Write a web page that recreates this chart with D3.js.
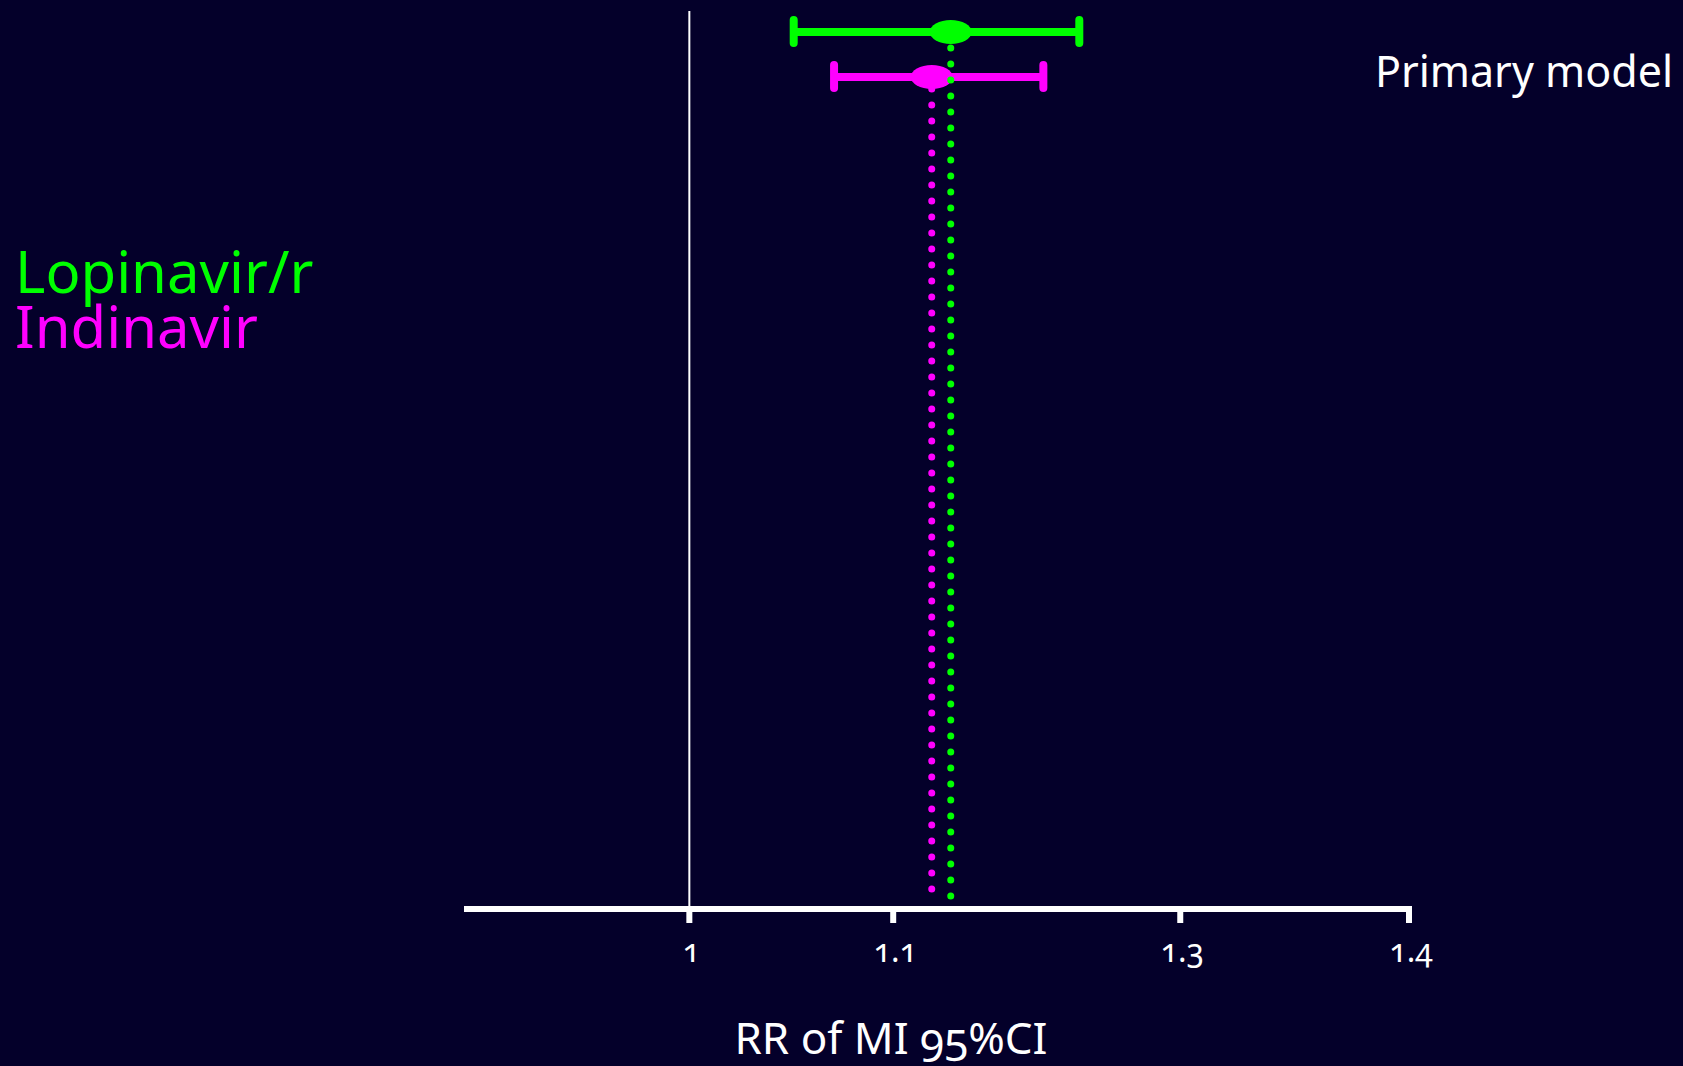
<!DOCTYPE html>
<html>
<head>
<meta charset="utf-8">
<script src="https://cdn.jsdelivr.net/npm/d3@7"></script>
<style>
  html, body { margin: 0; padding: 0; background: #04002a; }
  svg { display: block; }
  text { font-family: "Noto Sans", "Open Sans", sans-serif; font-variant-numeric: oldstyle-nums; }
</style>
</head>
<body>
<svg id="chart" width="1683" height="1066"></svg>
<script>
// Drugs, in drawing order (top row first)
const drugs = ["Lopinavir/r", "Indinavir"];
const drugColors = ["#00ff00", "#ff00ff"];
// Relative rate of MI per year of exposure, with 95% confidence interval
const estimates = [1.13, 1.12];
const lowerCI = [1.05, 1.07];
const upperCI = [1.20, 1.18];
// Axis ticks (the "1.3" tick sits where the slide put it)
const tickValues = [1, 1.1, 1.258, 1.4];
const tickLabels = ["1", "1.1", "1.3", "1.4"];

const W = 1683, H = 1066;
const svg = d3.select("#chart");
svg.append("rect").attr("width", W).attr("height", H).attr("fill", "#04002a");

// Log-scaled rate-ratio axis
const x = d3.scaleLog().domain([0.9, 1.4]).range([464, 1409]);
const y = d3.scalePoint().domain(drugs).range([32, 77]);
const axisY = 909;

// Reference line at RR = 1
svg.append("line")
  .attr("x1", x(1)).attr("x2", x(1))
  .attr("y1", 11).attr("y2", axisY)
  .attr("stroke", "#ffffff").attr("stroke-width", 2);

// Axis baseline and ticks
svg.append("line")
  .attr("x1", x.range()[0]).attr("x2", x.range()[1] + 3)
  .attr("y1", axisY).attr("y2", axisY)
  .attr("stroke", "#ffffff").attr("stroke-width", 6);
svg.append("g").selectAll("line").data(tickValues).join("line")
  .attr("x1", d => x(d)).attr("x2", d => x(d))
  .attr("y1", axisY).attr("y2", axisY + 14)
  .attr("stroke", "#ffffff").attr("stroke-width", 6);
svg.append("g").selectAll("text").data(tickValues).join("text")
  .attr("x", d => x(d) + 2).attr("y", 962)
  .attr("text-anchor", "middle")
  .attr("fill", "#ffffff").attr("font-size", 32)
  .text((d, i) => tickLabels[i]);

// Axis title
svg.append("text")
  .attr("x", 891).attr("y", 1054).attr("text-anchor", "middle")
  .attr("fill", "#ffffff").attr("font-size", 44)
  .text("RR of MI 95%CI");

// Panel title
svg.append("text")
  .attr("x", 1673).attr("y", 87).attr("text-anchor", "end")
  .attr("fill", "#ffffff").attr("font-size", 43)
  .text("Primary model");

// Legend
svg.append("g").selectAll("text").data(drugs).join("text")
  .attr("x", 15).attr("y", (d, i) => 293 + i * 55)
  .attr("fill", (d, i) => drugColors[i]).attr("font-size", 58)
  .text(d => d);

// Draw Indinavir first so the Lopinavir/r dotted line sits on top
const order = [1, 0];
const dotTop = [48, 89];
const dotBottom = [898, 905];

order.forEach(i => {
  const g = svg.append("g");
  const cy = y(drugs[i]);
  const c = drugColors[i];
  // CI bar
  g.append("line")
    .attr("x1", x(lowerCI[i])).attr("x2", x(upperCI[i]))
    .attr("y1", cy).attr("y2", cy)
    .attr("stroke", c).attr("stroke-width", 8);
  // whisker caps
  [lowerCI[i], upperCI[i]].forEach(v => {
    g.append("line")
      .attr("x1", x(v)).attr("x2", x(v))
      .attr("y1", cy - 12).attr("y2", cy + 11)
      .attr("stroke", c).attr("stroke-width", 8)
      .attr("stroke-linecap", "round");
  });
  // point estimate
  g.append("ellipse")
    .attr("cx", x(estimates[i])).attr("cy", cy)
    .attr("rx", 21).attr("ry", 12)
    .attr("fill", c);
  // dotted drop line at the estimate
  g.append("line")
    .attr("x1", x(estimates[i])).attr("x2", x(estimates[i]))
    .attr("y1", dotTop[i]).attr("y2", dotBottom[i])
    .attr("stroke", c).attr("stroke-width", 7)
    .attr("stroke-linecap", "round")
    .attr("stroke-dasharray", "0 16");
});
</script>
</body>
</html>
